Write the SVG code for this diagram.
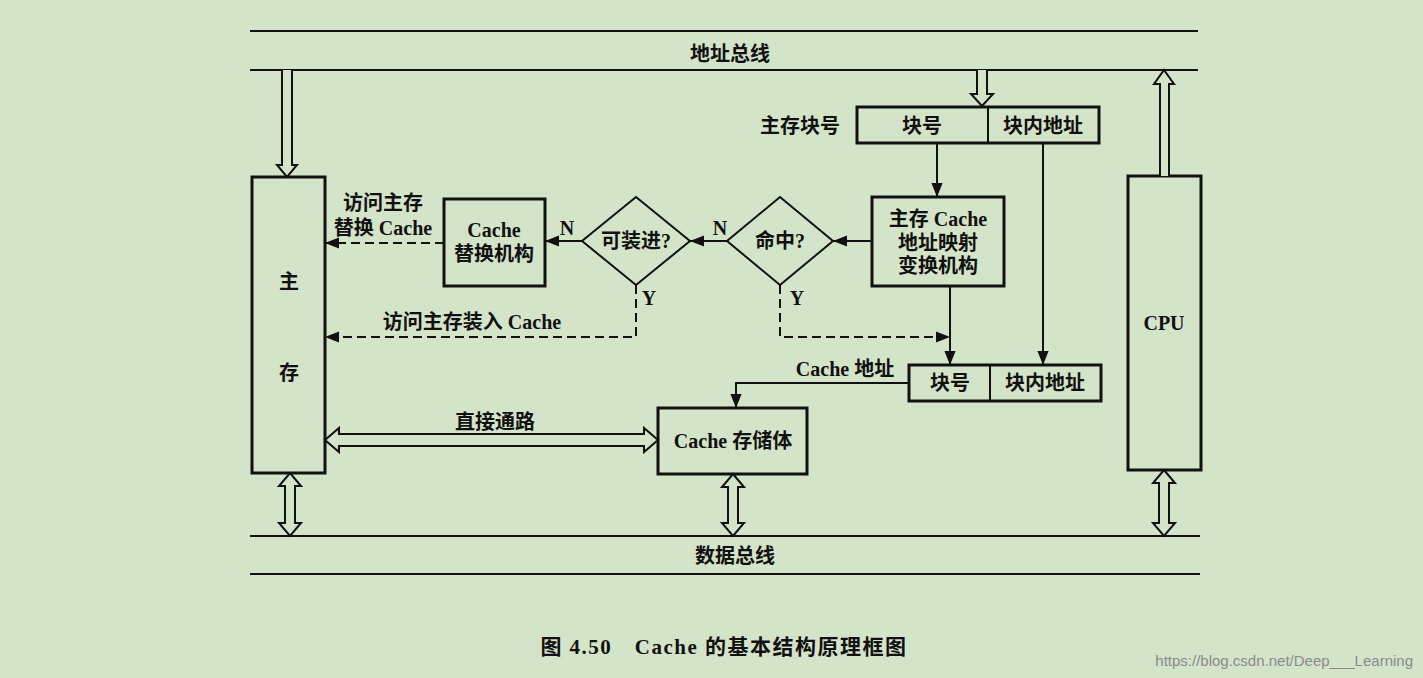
<svg xmlns="http://www.w3.org/2000/svg" width="1423" height="678" viewBox="0 0 1423 678">
<style>
text{font-family:"Liberation Serif","Noto Sans CJK SC",serif;font-weight:bold;font-size:20px;fill:#111;text-anchor:middle;dominant-baseline:central}
.box{fill:none;stroke:#111;stroke-width:3}
.ln{fill:none;stroke:#111;stroke-width:2}
.ds{fill:none;stroke:#111;stroke-width:2;stroke-dasharray:9 5}
.big{fill:#d4e4c8;stroke:#111;stroke-width:2;stroke-linejoin:miter}
</style>
<defs>
<marker id="ah" viewBox="0 0 10 10" refX="10" refY="5" markerWidth="7" markerHeight="7" orient="auto-start-reverse"><path d="M0,1 L10,5 L0,9 Z" fill="#111"/></marker>
</defs>
<rect width="1423" height="678" fill="#d4e4c8"/>
<g id="buses">
<line class="ln" x1="250" y1="31" x2="1198" y2="31"/>
<line class="ln" x1="250" y1="70" x2="1198" y2="70"/>
<line class="ln" x1="250" y1="536" x2="1200" y2="536"/>
<line class="ln" x1="250" y1="574" x2="1200" y2="574"/>
<text x="730" y="54">地址总线</text>
<text x="735" y="556">数据总线</text>
</g>
<g id="main"><rect class="box" x="252" y="177" width="73" height="296"/><text x="289" y="282">主</text><text x="289" y="373">存</text></g>
<g id="cpu"><rect class="box" x="1128" y="176" width="73" height="294"/><text x="1164" y="323">CPU</text></g>
<g id="mainaddr"><text x="800" y="126">主存块号</text><rect class="box" x="857" y="107" width="242" height="36"/><line class="ln" x1="988" y1="107" x2="988" y2="143"/><text x="922" y="126">块号</text><text x="1043" y="126">块内地址</text></g>
<g id="map"><rect class="box" x="872" y="197" width="132" height="89"/><text x="938" y="219">主存 Cache</text><text x="938" y="243">地址映射</text><text x="938" y="266">变换机构</text></g>
<g id="hit"><polygon class="ln" points="780,197 833,241 780,285 727,241"/><text x="780" y="241">命中?</text></g>
<g id="canload"><polygon class="ln" points="636,197 690,241 636,285 582,241"/><text x="636" y="241">可装进?</text></g>
<g id="repl"><rect class="box" x="444" y="199" width="101" height="87"/><text x="494" y="230">Cache</text><text x="494" y="254">替换机构</text></g>
<g id="cacheaddr"><text x="845" y="369">Cache 地址</text><rect class="box" x="909" y="365" width="192" height="36"/><line class="ln" x1="990" y1="365" x2="990" y2="401"/><text x="950" y="383">块号</text><text x="1045" y="383">块内地址</text></g>
<g id="store"><rect class="box" x="658" y="408" width="149" height="66"/><text x="733" y="441">Cache 存储体</text></g>
<g id="connectors">
<path class="big" d="M282,70 V165 H277 L287,177 L297,165 H292 V70"/>
<path class="big" d="M977,70 V94 H971 L982,106 L993,94 H987 V70"/>
<path class="big" d="M1160,176 V84 H1154 L1164,70 L1174,84 H1169 V176"/>
<path class="big" d="M325,440 L339,428 V434 H644 V428 L658,440 L644,452 V446 H339 V452 Z"/>
<path class="big" d="M290,473 L301,486 H295 V523 H301 L290,536 L279,523 H285 V486 H279 Z"/>
<path class="big" d="M733,474 L744,487 H738 V523 H744 L733,536 L722,523 H728 V487 H722 Z"/>
<path class="big" d="M1164,470 L1175,483 H1169 V523 H1175 L1164,536 L1153,523 H1159 V483 H1153 Z"/>
<line class="ln" x1="937" y1="143" x2="937" y2="197" marker-end="url(#ah)"/>
<line class="ln" x1="1043" y1="143" x2="1043" y2="365" marker-end="url(#ah)"/>
<line class="ln" x1="950" y1="286" x2="950" y2="365" marker-end="url(#ah)"/>
<line class="ln" x1="872" y1="241" x2="833" y2="241" marker-end="url(#ah)"/>
<line class="ln" x1="727" y1="241" x2="690" y2="241" marker-end="url(#ah)"/>
<line class="ln" x1="582" y1="241" x2="545" y2="241" marker-end="url(#ah)"/>
<line class="ds" x1="444" y1="243" x2="325" y2="243" marker-end="url(#ah)"/>
<path class="ds" d="M636,285 V337 H325" marker-end="url(#ah)"/>
<path class="ds" d="M780,285 V337 H950" marker-end="url(#ah)"/>
<path class="ln" d="M909,383 H736 V408" marker-end="url(#ah)"/>
<text x="720" y="228">N</text><text x="567" y="228">N</text>
<text x="649" y="298">Y</text><text x="797" y="298">Y</text>
<text x="383" y="203">访问主存</text><text x="383" y="228">替换 Cache</text>
<text x="472" y="322">访问主存装入 Cache</text>
<text x="495" y="422">直接通路</text>
</g>
<text x="724" y="647" style="font-size:21px;letter-spacing:1.5px">图 4.50　Cache 的基本结构原理框图</text>
<text x="1413" y="660" style="font-family:'Liberation Sans',sans-serif;font-weight:normal;font-size:15px;fill:#8a8a8a;text-anchor:end">https://blog.csdn.net/Deep___Learning</text>
</svg>
